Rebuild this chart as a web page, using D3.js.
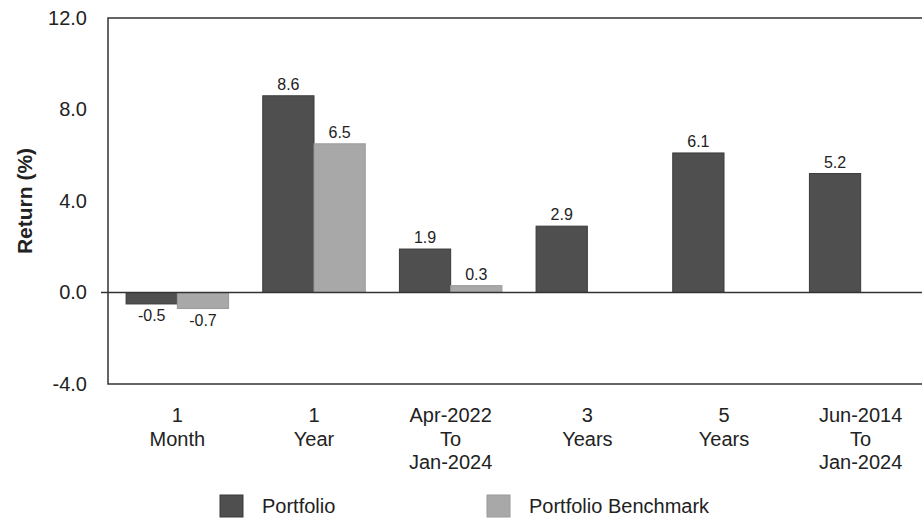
<!DOCTYPE html>
<html>
<head>
<meta charset="utf-8">
<script src="https://cdn.jsdelivr.net/npm/d3@7"></script>
<style>
  html, body { margin: 0; padding: 0; background: #fff; }
  svg { display: block; font-family: "Liberation Sans", Arial, sans-serif; }
</style>
</head>
<body>
<svg id="chart" width="922" height="518"></svg>
<script>
const categories = [
  ["1", "Month"],
  ["1", "Year"],
  ["Apr-2022", "To", "Jan-2024"],
  ["3", "Years"],
  ["5", "Years"],
  ["Jun-2014", "To", "Jan-2024"]
];
const seriesNames = ["Portfolio", "Portfolio Benchmark"];
const portfolio = [-0.5, 8.6, 1.9, 2.9, 6.1, 5.2];
const benchmark = [-0.7, 6.5, 0.3, null, null, null];
const yTicks = [-4, 0, 4, 8, 12];
const yLabel = "Return (%)";

const colors = {"Portfolio": "#4f4f4f", "Portfolio Benchmark": "#a8a8a8"};
const strokes = {"Portfolio": "#3a3a3a", "Portfolio Benchmark": "#9a9a9a"};

const fmt = v => v.toFixed(1); // uses plain hyphen for negatives

const svg = d3.select("#chart");
const mLeft = 108, mTop = 18, mBottom = 384, mRight = 929;

const keys = categories.map((c, i) => i);
const x = d3.scaleBand().domain(keys).range([mLeft + 1, mRight]).paddingInner(0.25).paddingOuter(0.125);
const xs = d3.scaleBand().domain(seriesNames).range([0, x.bandwidth()]).padding(0);
const y = d3.scaleLinear().domain([-4, 12]).range([mBottom, mTop]);

const rows = [];
categories.forEach((c, i) => {
  rows.push({i, s: "Portfolio", v: portfolio[i]});
  if (benchmark[i] !== null) rows.push({i, s: "Portfolio Benchmark", v: benchmark[i]});
});

// bars
svg.append("g").selectAll("rect").data(rows).join("rect")
  .attr("x", d => x(d.i) + xs(d.s))
  .attr("width", xs.bandwidth())
  .attr("y", d => y(Math.max(0, d.v)))
  .attr("height", d => Math.abs(y(d.v) - y(0)))
  .attr("fill", d => colors[d.s])
  .attr("stroke", d => strokes[d.s])
  .attr("stroke-width", 1);

// zero line
svg.append("line")
  .attr("x1", mLeft - 7).attr("x2", 922)
  .attr("y1", y(0)).attr("y2", y(0))
  .attr("stroke", "#333").attr("stroke-width", 1.5);

// frame
svg.append("path")
  .attr("d", `M922,${mTop}H${mLeft}V${mBottom}H922`)
  .attr("fill", "none").attr("stroke", "#333").attr("stroke-width", 1.5);

// value labels
svg.append("g").selectAll("text").data(rows).join("text")
  .attr("x", d => x(d.i) + xs(d.s) + xs.bandwidth() / 2)
  .attr("y", d => d.v >= 0 ? y(d.v) - 6 : y(d.v) + 17)
  .attr("text-anchor", "middle")
  .attr("font-size", 16)
  .attr("fill", "#222")
  .text(d => fmt(d.v));

// y axis
const yAxis = d3.axisLeft(y).tickValues(yTicks).tickSize(0).tickPadding(21)
  .tickFormat(fmt);
const ya = svg.append("g").attr("transform", `translate(${mLeft},0)`).call(yAxis);
ya.select(".domain").remove();
ya.selectAll("text").attr("font-size", 20).attr("fill", "#222")
  .attr("font-family", "Liberation Sans, Arial, sans-serif");

// x axis labels
const xAxis = d3.axisBottom(x).tickSize(0).tickFormat(() => "");
const xa = svg.append("g").attr("transform", `translate(0,${mBottom})`).call(xAxis);
xa.select(".domain").remove();
xa.selectAll(".tick").each(function(d) {
  const t = d3.select(this).append("text")
    .attr("text-anchor", "middle")
    .attr("font-size", 20)
    .attr("fill", "#222")
    .attr("font-family", "Liberation Sans, Arial, sans-serif");
  categories[d].forEach((line, k) => {
    t.append("tspan").attr("x", 0).attr("y", 38 + k * 23.5).text(line);
  });
});

// y label
svg.append("text")
  .attr("transform", `translate(32,201) rotate(-90)`)
  .attr("text-anchor", "middle")
  .attr("font-size", 21)
  .attr("font-weight", "bold")
  .attr("fill", "#222")
  .text(yLabel);

// legend
const legendX = [220, 487];
const lg = svg.append("g").selectAll("g").data(seriesNames).join("g")
  .attr("transform", (d, i) => `translate(${legendX[i]},495)`);
lg.append("rect").attr("width", 23).attr("height", 22)
  .attr("fill", d => colors[d]).attr("stroke", d => strokes[d]);
lg.append("text").attr("x", 42).attr("y", 18)
  .attr("font-size", 20).attr("fill", "#222").text(d => d);
</script>
</body>
</html>
